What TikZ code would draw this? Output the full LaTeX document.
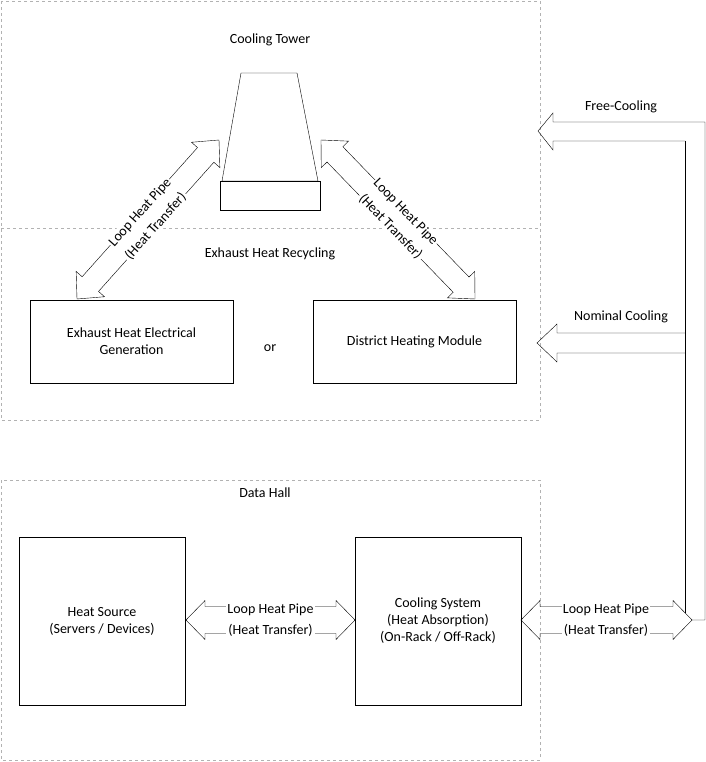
\documentclass[tikz,border=0pt]{standalone}
\usepackage{fontspec}
\setmainfont{Carlito}
\usetikzlibrary{calc}
\newcommand\pipearrow[5]{%
\coordinate (ha) at ($(#1)!#5!(#2)$);
\coordinate (hb) at ($(#2)!#5!(#1)$);
\draw[thin] (#1) -- ($(ha)!#4!90:(#2)$) -- ($(ha)!#3!90:(#2)$) -- ($(hb)!#3!-90:(#1)$) -- ($(hb)!#4!-90:(#1)$) -- (#2) -- ($(hb)!#4!90:(#1)$) -- ($(hb)!#3!90:(#1)$) -- ($(ha)!#3!-90:(#2)$) -- ($(ha)!#4!-90:(#2)$) -- cycle;}
\begin{document}
\begin{tikzpicture}[x=1pt,y=-1pt,font=\fontsize{14}{17}\selectfont,
  region/.style={draw=gray!60,dashed},
  box/.style={draw,thin,align=center},
  lbl/.style={fill=white,inner sep=1pt,align=center,font=\fontsize{14}{21}\selectfont}]
\useasboundingbox (0,0) rectangle (705,762);
% regions
\draw[region] (1,1) rectangle (540,420);
\draw[region] (1,228) -- (540,228);
\draw[region] (1,480) rectangle (540,760);
\node (tCT) at (270,40) {Cooling Tower};
\node (tEHR) at (270,254) {Exhaust Heat Recycling};
\node (tDH) at (265,493) {Data Hall};
% tower
\draw[thin] (241,73) -- (297,73) -- (318,181) -- (222,181) -- cycle;
\node[draw,thin,minimum width=100,minimum height=29,inner sep=0] (tower) at (270,195.5) {};
% boxes
\node[box,minimum width=203,minimum height=83] (ehe) at (131.5,341.5) {Exhaust Heat Electrical\\Generation};
\node[box,minimum width=203,minimum height=83] (dhm) at (414.5,341.5) {District Heating Module};
\node (or) at (270,348) {or};
\node[box,minimum width=166,minimum height=168] (hs) at (102,621) {Heat Source\\(Servers / Devices)};
\node[box,minimum width=166,minimum height=168] (cs) at (438,621) {Cooling System\\(Heat Absorption)\\(On-Rack / Off-Rack)};
% horizontal pipes
\coordinate (p1a) at (186,620); \coordinate (p1b) at (355,620);
\pipearrow{p1a}{p1b}{13.5pt}{19.5pt}{19pt}
\node[lbl] at (270.5,620) {Loop Heat Pipe\\(Heat Transfer)};
\coordinate (p2a) at (521,620); \coordinate (p2b) at (692,620);
\pipearrow{p2a}{p2b}{13.5pt}{19.5pt}{19pt}
\node[lbl] at (606,620) {Loop Heat Pipe\\(Heat Transfer)};
% diagonal pipes
\coordinate (p3a) at (77,299); \coordinate (p3b) at (219,140);
\pipearrow{p3a}{p3b}{11pt}{19pt}{20pt}
\node[lbl,rotate=48.2] at ($(p3a)!0.5!(p3b)$) {Loop Heat Pipe\\(Heat Transfer)};
\coordinate (p4a) at (321,140); \coordinate (p4b) at (475,299);
\pipearrow{p4a}{p4b}{11pt}{19pt}{20pt}
\node[lbl,rotate=-45.9] at ($(p4a)!0.5!(p4b)$) {Loop Heat Pipe\\(Heat Transfer)};
% cooling loop
\coordinate (fcTip) at (538,131);
\draw[thin] (685,141) -- (553,141) -- (553,150) -- (fcTip) -- (553,113) -- (553,122) -- (705,122) -- (705,620) -- (p2b);
\draw[thin] (685,141) -- (685,613);
\coordinate (ncTip) at (537,343);
\draw[thin] (685,333) -- (557,333) -- (557,324) -- (ncTip) -- (557,362) -- (557,353) -- (685,353);
\node (tFC) at (621,107) {Free-Cooling};
\node (tNC) at (621,317) {Nominal Cooling};
\end{tikzpicture}
\end{document}
